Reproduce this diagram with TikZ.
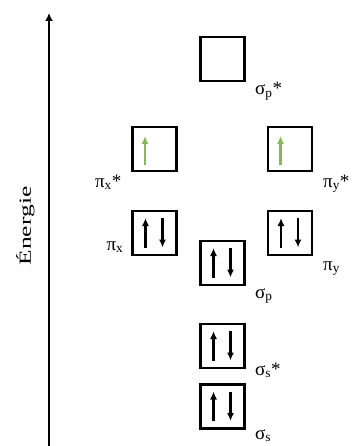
\documentclass[tikz,border=0pt]{standalone}
\usepackage{fontspec}
\setmainfont{Liberation Serif}
\usetikzlibrary{positioning,calc,arrows.meta}
\definecolor{spingreen}{RGB}{134,184,90}

\begin{document}
\begin{tikzpicture}[x=1pt, y=-1pt,
                orbnode/.style={rectangle, draw, line width=2.5pt, minimum size=44pt, outer sep=0pt, inner sep=0pt},
                lblnode/.style={inner sep=0pt, font=\fontsize{19}{22}\selectfont},
                spin/.style={line width=2.8pt, -{Latex[length=8pt,width=7pt]}},
                spinup/.style={spin, spingreen},
            ]

            \useasboundingbox (0,0) rectangle (353,446);

            % axis
            \coordinate (axisBot) at (49, 446);
            \coordinate (axisTop) at (49, 13);
            \draw[line width=2pt, -{Latex[length=8pt,width=8pt]}] (axisBot) -- (axisTop);
            \node[lblnode, rotate=90] (energie) at (25.5, 226) {\fontsize{17}{20}\selectfont\scalebox{1.5}[1]{Énergie}};

            % orbitals
            \node[orbnode] (sigPs) at (222.5, 59) {};
            \node[orbnode] (piXs) at (154.5, 149) {};
            \node[orbnode] (piYs) at (290, 149) {};
            \node[orbnode] (piX) at (154.5, 233) {};
            \node[orbnode] (piY) at (290, 233) {};
            \node[orbnode] (sigP) at (222.5, 263) {};
            \node[orbnode] (sigSs) at (222.5, 346) {};
            \node[orbnode] (sigS) at (222.5, 406.5) {};

            % paired electrons
            \foreach \n in {piX, piY, sigP, sigSs, sigS} {
                \draw[spin] ([xshift=-9pt, yshift=-14.5pt]\n.center) -- ([xshift=-9pt, yshift=15pt]\n.center);
                \draw[spin] ([xshift=8pt, yshift=15pt]\n.center) -- ([xshift=8pt, yshift=-14.5pt]\n.center);
            }

            % single electrons
            \foreach \n in {piXs, piYs} {
                \draw[spinup] ([xshift=-9.5pt, yshift=-16pt]\n.center) -- ([xshift=-9.5pt, yshift=13pt]\n.center);
            }

            % labels
            \node[lblnode, anchor=base west] (lblSigPs) at ($ (sigPs.south east) + (10.5, 14) $) {σ\textsubscript{p}*};
            \node[lblnode, anchor=base east] (lblPiXs) at ($ (piXs.south west) + (-11, 16) $) {π\textsubscript{x}*};
            \node[lblnode, anchor=base west] (lblPiYs) at ($ (piYs.south east) + (11, 16) $) {π\textsubscript{y}*};
            \node[lblnode, anchor=base east] (lblPiX) at ($ (piX.south west) + (-9, -5) $) {π\textsubscript{x}};
            \node[lblnode, anchor=base west] (lblPiY) at ($ (piY.south east) + (11, 15) $) {π\textsubscript{y}};
            \node[lblnode, anchor=base west] (lblSigP) at ($ (sigP.south east) + (10.5, 13) $) {σ\textsubscript{p}};
            \node[lblnode, anchor=base west] (lblSigSs) at ($ (sigSs.south east) + (10.5, 7) $) {σ\textsubscript{s}*};
            \node[lblnode, anchor=base west] (lblSigS) at ($ (sigS.south east) + (10.5, 10.5) $) {σ\textsubscript{s}};
        \end{tikzpicture}
\end{document}
